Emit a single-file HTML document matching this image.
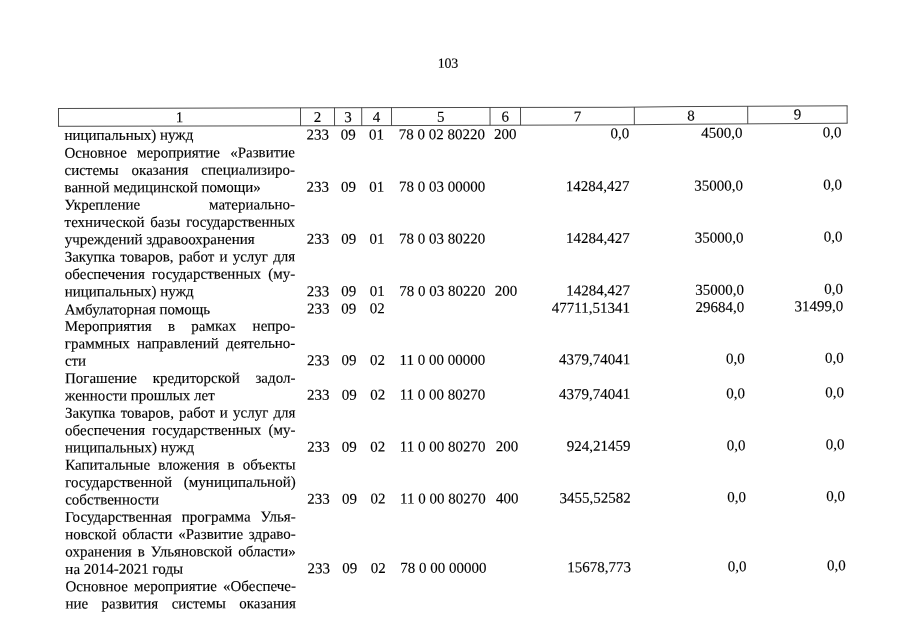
<!DOCTYPE html>
<html lang="ru"><head><meta charset="utf-8"><title>103</title>
<style>
html,body{margin:0;padding:0;background:#fff;}
body{width:905px;height:640px;overflow:hidden;position:relative;font-family:"Liberation Serif","Times New Roman",serif;color:#000;-webkit-text-stroke:0.12px #000;}
#pg{position:absolute;left:0;top:0;width:905px;height:640px;transform:rotate(-0.1deg);transform-origin:65px 140px;}
.t{position:absolute;left:0;top:0;white-space:nowrap;font-size:15.0px;line-height:18.0px;height:18.0px;}
.j{text-align:justify;text-align-last:justify;white-space:normal;}
.r{text-align:right;}
.c{text-align:center;}
.pn{font-size:14px;letter-spacing:-0.25px;}
svg{position:absolute;left:0;top:0;overflow:visible;}
</style></head><body><div id="pg">

<div class="t pn" style="transform:translate(437.92px,55.49px);">103</div>
<svg width="905" height="640" viewBox="0 0 905 640" fill="none" stroke="#383838" stroke-width="0.9">
<polyline points="58.05,108.49 390.06,108.17 620.06,108.27 680.06,107.67 847.66,107.17"/>
<polyline points="58.02,126.29 390.02,126.17 620.03,125.82 680.03,125.37 847.63,124.57"/>
<line x1="58.55" y1="108.49" x2="58.57" y2="126.29"/>
<line x1="300.56" y1="108.25" x2="300.57" y2="126.20"/>
<line x1="334.56" y1="108.22" x2="334.57" y2="126.19"/>
<line x1="361.76" y1="108.19" x2="361.77" y2="126.18"/>
<line x1="391.56" y1="108.17" x2="391.57" y2="126.17"/>
<line x1="490.06" y1="108.21" x2="490.08" y2="126.02"/>
<line x1="520.56" y1="108.22" x2="520.58" y2="125.97"/>
<line x1="634.36" y1="108.13" x2="634.38" y2="125.71"/>
<line x1="747.76" y1="107.47" x2="747.78" y2="125.05"/>
<line x1="847.16" y1="107.16" x2="847.18" y2="124.56"/>
</svg>
<div class="t c" style="width:60px;transform:translate(149.53px,108.51px);">1</div>
<div class="t c" style="width:60px;transform:translate(287.53px,108.47px);">2</div>
<div class="t c" style="width:60px;transform:translate(318.13px,108.45px);">3</div>
<div class="t c" style="width:60px;transform:translate(346.63px,108.44px);">4</div>
<div class="t c" style="width:60px;transform:translate(410.78px,108.40px);">5</div>
<div class="t c" style="width:60px;transform:translate(475.28px,108.37px);">6</div>
<div class="t c" style="width:60px;transform:translate(547.43px,108.32px);">7</div>
<div class="t c" style="width:60px;transform:translate(661.03px,107.60px);">8</div>
<div class="t c" style="width:60px;transform:translate(767.43px,106.55px);">9</div>
<div class="t" style="width:230.50px;transform:translate(64.40px,126.04px);">ниципальных) нужд</div>
<div class="t" style="transform:translate(306.50px,125.97px);">233</div>
<div class="t" style="transform:translate(340.85px,125.95px);">09</div>
<div class="t" style="transform:translate(369.10px,125.93px);">01</div>
<div class="t" style="transform:translate(398.75px,125.91px);">78 0 02 80220</div>
<div class="t" style="transform:translate(494.00px,125.85px);">200</div>
<div class="t r" style="width:100px;transform:translate(529.25px,125.27px);">0,0</div>
<div class="t r" style="width:100px;transform:translate(642.61px,124.91px);">4500,0</div>
<div class="t r" style="width:100px;transform:translate(741.61px,124.69px);">0,0</div>
<div class="t j" style="width:230.50px;transform:translate(64.41px,143.68px);">Основное мероприятие «Развитие</div>
<div class="t j" style="width:230.50px;transform:translate(64.42px,161.02px);">системы оказания специализиро-</div>
<div class="t" style="width:230.50px;transform:translate(64.42px,178.37px);">ванной медицинской помощи»</div>
<div class="t" style="transform:translate(306.53px,178.26px);">233</div>
<div class="t" style="transform:translate(340.92px,178.24px);">09</div>
<div class="t" style="transform:translate(369.22px,178.22px);">01</div>
<div class="t" style="transform:translate(398.84px,178.20px);">78 0 03 00000</div>
<div class="t r" style="width:100px;transform:translate(529.37px,178.02px);">14284,427</div>
<div class="t r" style="width:100px;transform:translate(642.98px,177.65px);">35000,0</div>
<div class="t r" style="width:100px;transform:translate(742.02px,176.91px);">0,0</div>
<div class="t j" style="width:230.50px;transform:translate(64.43px,195.71px);">Укрепление материально-</div>
<div class="t j" style="width:230.50px;transform:translate(64.44px,213.05px);">технической базы государственных</div>
<div class="t" style="width:230.50px;transform:translate(64.45px,230.39px);">учреждений здравоохранения</div>
<div class="t" style="transform:translate(306.56px,230.26px);">233</div>
<div class="t" style="transform:translate(340.98px,230.23px);">09</div>
<div class="t" style="transform:translate(369.34px,230.21px);">01</div>
<div class="t" style="transform:translate(398.93px,230.18px);">78 0 03 80220</div>
<div class="t r" style="width:100px;transform:translate(529.50px,229.98px);">14284,427</div>
<div class="t r" style="width:100px;transform:translate(643.36px,229.59px);">35000,0</div>
<div class="t r" style="width:100px;transform:translate(742.42px,228.83px);">0,0</div>
<div class="t j" style="width:230.50px;transform:translate(64.46px,247.74px);">Закупка товаров, работ и услуг для</div>
<div class="t j" style="width:230.50px;transform:translate(64.46px,265.08px);">обеспечения государственных (му-</div>
<div class="t" style="width:230.50px;transform:translate(64.47px,282.42px);">ниципальных) нужд</div>
<div class="t" style="transform:translate(306.59px,282.61px);">233</div>
<div class="t" style="transform:translate(341.05px,282.57px);">09</div>
<div class="t" style="transform:translate(369.45px,282.55px);">01</div>
<div class="t" style="transform:translate(399.02px,282.52px);">78 0 03 80220</div>
<div class="t" style="transform:translate(494.60px,282.42px);">200</div>
<div class="t r" style="width:100px;transform:translate(529.62px,282.28px);">14284,427</div>
<div class="t r" style="width:100px;transform:translate(643.74px,281.88px);">35000,0</div>
<div class="t r" style="width:100px;transform:translate(742.83px,281.11px);">0,0</div>
<div class="t" style="width:230.50px;transform:translate(64.48px,300.47px);">Амбулаторная помощь</div>
<div class="t" style="transform:translate(306.60px,299.94px);">233</div>
<div class="t" style="transform:translate(341.07px,299.91px);">09</div>
<div class="t" style="transform:translate(369.49px,299.88px);">02</div>
<div class="t r" style="width:100px;transform:translate(529.66px,299.60px);">47711,51341</div>
<div class="t r" style="width:100px;transform:translate(643.86px,299.19px);">29684,0</div>
<div class="t r" style="width:100px;transform:translate(742.97px,298.42px);">31499,0</div>
<div class="t j" style="width:230.50px;transform:translate(64.49px,317.11px);">Мероприятия в рамках непро-</div>
<div class="t j" style="width:230.50px;transform:translate(64.49px,334.45px);">граммных направлений деятельно-</div>
<div class="t" style="width:230.50px;transform:translate(64.50px,351.80px);">сти</div>
<div class="t" style="transform:translate(306.63px,351.59px);">233</div>
<div class="t" style="transform:translate(341.13px,351.55px);">09</div>
<div class="t" style="transform:translate(369.61px,351.51px);">02</div>
<div class="t" style="transform:translate(399.15px,351.48px);">11 0 00 00000</div>
<div class="t r" style="width:100px;transform:translate(529.78px,351.20px);">4379,74041</div>
<div class="t r" style="width:100px;transform:translate(644.24px,350.77px);">0,0</div>
<div class="t r" style="width:100px;transform:translate(743.38px,349.99px);">0,0</div>
<div class="t j" style="width:230.50px;transform:translate(64.51px,369.14px);">Погашение кредиторской задол-</div>
<div class="t" style="width:230.50px;transform:translate(64.52px,386.48px);">женности прошлых лет</div>
<div class="t" style="transform:translate(306.65px,386.25px);">233</div>
<div class="t" style="transform:translate(341.18px,386.21px);">09</div>
<div class="t" style="transform:translate(369.69px,386.17px);">02</div>
<div class="t" style="transform:translate(399.21px,386.14px);">11 0 00 80270</div>
<div class="t r" style="width:100px;transform:translate(529.87px,385.84px);">4379,74041</div>
<div class="t r" style="width:100px;transform:translate(644.49px,385.40px);">0,0</div>
<div class="t r" style="width:100px;transform:translate(743.65px,384.61px);">0,0</div>
<div class="t j" style="width:230.50px;transform:translate(64.53px,403.83px);">Закупка товаров, работ и услуг для</div>
<div class="t j" style="width:230.50px;transform:translate(64.53px,421.17px);">обеспечения государственных (му-</div>
<div class="t" style="width:230.50px;transform:translate(64.54px,438.51px);">ниципальных) нужд</div>
<div class="t" style="transform:translate(306.67px,438.25px);">233</div>
<div class="t" style="transform:translate(341.24px,438.20px);">09</div>
<div class="t" style="transform:translate(369.81px,438.16px);">02</div>
<div class="t" style="transform:translate(399.30px,438.12px);">11 0 00 80270</div>
<div class="t" style="transform:translate(495.21px,437.99px);">200</div>
<div class="t r" style="width:100px;transform:translate(529.99px,437.79px);">924,21459</div>
<div class="t r" style="width:100px;transform:translate(644.87px,437.34px);">0,0</div>
<div class="t r" style="width:100px;transform:translate(744.06px,436.53px);">0,0</div>
<div class="t j" style="width:230.50px;transform:translate(64.55px,455.85px);">Капитальные вложения в объекты</div>
<div class="t j" style="width:230.50px;transform:translate(64.56px,473.20px);">государственной (муниципальной)</div>
<div class="t" style="width:230.50px;transform:translate(64.57px,490.54px);">собственности</div>
<div class="t" style="transform:translate(306.70px,490.25px);">233</div>
<div class="t" style="transform:translate(341.31px,490.20px);">09</div>
<div class="t" style="transform:translate(369.92px,490.15px);">02</div>
<div class="t" style="transform:translate(399.39px,490.11px);">11 0 00 80270</div>
<div class="t" style="transform:translate(495.41px,489.96px);">400</div>
<div class="t r" style="width:100px;transform:translate(530.11px,489.75px);">3455,52582</div>
<div class="t r" style="width:100px;transform:translate(645.25px,489.27px);">0,0</div>
<div class="t r" style="width:100px;transform:translate(744.47px,488.45px);">0,0</div>
<div class="t j" style="width:230.50px;transform:translate(64.57px,507.88px);">Государственная программа Улья-</div>
<div class="t j" style="width:230.50px;transform:translate(64.58px,525.23px);">новской области «Развитие здраво-</div>
<div class="t j" style="width:230.50px;transform:translate(64.59px,542.57px);">охранения в Ульяновской области»</div>
<div class="t" style="width:230.50px;transform:translate(64.60px,559.91px);">на 2014-2021 годы</div>
<div class="t" style="transform:translate(306.74px,559.58px);">233</div>
<div class="t" style="transform:translate(341.40px,559.52px);">09</div>
<div class="t" style="transform:translate(370.08px,559.47px);">02</div>
<div class="t" style="transform:translate(399.51px,559.42px);">78 0 00 00000</div>
<div class="t r" style="width:100px;transform:translate(530.27px,559.02px);">15678,773</div>
<div class="t r" style="width:100px;transform:translate(645.75px,558.52px);">0,0</div>
<div class="t r" style="width:100px;transform:translate(745.01px,557.68px);">0,0</div>
<div class="t j" style="width:230.50px;transform:translate(64.61px,577.26px);">Основное мероприятие «Обеспече-</div>
<div class="t j" style="width:230.50px;transform:translate(64.61px,594.60px);">ние развития системы оказания</div>
</div></body></html>
